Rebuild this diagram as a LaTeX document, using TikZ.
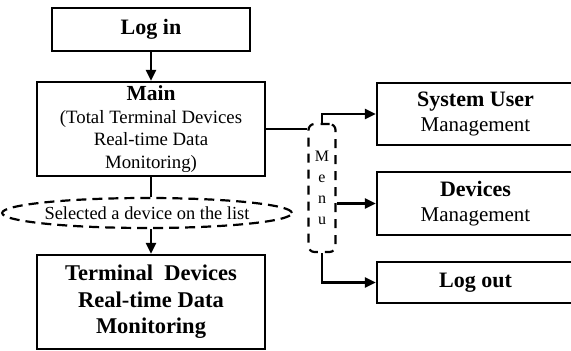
\documentclass[tikz,border=0pt]{standalone}
\usepackage{fontspec}
\setmainfont{Liberation Serif}
\usetikzlibrary{arrows.meta,shapes.geometric}

\tikzset{
  box/.style={draw,line width=2.2pt,align=center,inner sep=1pt},
  dashbox/.style={draw,line width=2.2pt,dash pattern=on 10pt off 6pt},
  link/.style={line width=2.2pt},
  arr/.style={line width=2.2pt,-{Triangle[length=11pt,width=10pt]}},
}

\begin{document}
\begin{tikzpicture}[x=1pt,y=1pt,yscale=-1,xscale=1]
\useasboundingbox (0,0) rectangle (571,351);

% Left column
\node (login) [box,minimum width=198,minimum height=43,font=\fontsize{22}{24}\selectfont\bfseries] at (151,29.5) {Log in};
\node (main) [box,minimum width=228,minimum height=94,font=\fontsize{18.8}{22.5}\selectfont] at (151,129)
  {{\fontsize{21.5}{22.5}\selectfont\bfseries Main}\\(Total Terminal Devices\\Real-time Data\\Monitoring)};
\node (sel) [dashbox,ellipse,minimum width=275,minimum height=30,inner sep=0pt,font=\fontsize{18.4}{20}\selectfont] at (147,213) {Selected a device on the list};
\node (tdrm) [box,minimum width=228,minimum height=94,font=\fontsize{22.5}{26.5}\selectfont\bfseries] at (151,302)
  {Terminal\ \ Devices\\Real-time Data\\Monitoring};

% Menu
\node (menu) [dashbox,dash pattern=on 9pt off 7pt,rounded corners=6pt,minimum width=27,minimum height=128,inner sep=0pt,align=center,font=\fontsize{16}{21}\selectfont] at (322,188) {M\\e\\n\\u};

% Right column
\node (sysuser) [box,minimum width=197,minimum height=62,font=\fontsize{21}{25}\selectfont] at (475.5,114)
  {{\fontsize{22}{25}\selectfont\bfseries System User}\\Management};
\node (devices) [box,minimum width=197,minimum height=63,font=\fontsize{21}{25}\selectfont] at (475.5,203.5)
  {{\fontsize{22}{25}\selectfont\bfseries Devices}\\Management};
\node (logout) [box,minimum width=197,minimum height=41,font=\fontsize{22}{24}\selectfont\bfseries] at (475.5,282.5) {Log out};

% Connectors
\draw [arr] (login.south) -- (main.north);
\draw [link] (main.south) -- (main.south |- sel.north);
\draw [arr] (sel.south -| tdrm.north) -- (tdrm.north);
\draw [link] (main.east) -- (main.east -| menu.west);
\draw [arr] (menu.north) |- (sysuser.west);
\draw [arr] (menu.east |- devices.west) -- (devices.west);
\draw [arr] (menu.south) |- (logout.west);

\end{tikzpicture}
\end{document}
